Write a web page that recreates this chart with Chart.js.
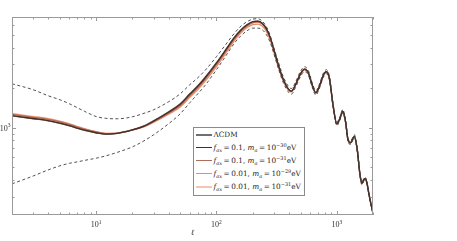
<!DOCTYPE html>
<html><head><meta charset="utf-8">
<script src="https://cdn.jsdelivr.net/npm/chart.js@4"></script>
<style>
html,body{margin:0;padding:0;background:#fff;}
#wrap{position:relative;width:457px;height:241px;overflow:hidden;}
#c{position:absolute;left:0;top:0;}
#legend{position:absolute;left:193px;top:127px;width:112px;height:69px;border:1px solid #8a8a8a;background:#fff;box-sizing:border-box;font-family:"DejaVu Serif","Liberation Serif",serif;font-size:7.3px;color:#222;}
.row{position:absolute;left:2px;height:10px;display:flex;align-items:center;white-space:nowrap;line-height:10px;}
.sw{display:inline-block;width:16px;height:1.4px;margin-right:1.5px;}
.eq{margin:0 1.6px;}
sub{font-size:5px;vertical-align:-1.5px;line-height:0;}
sup{font-size:5px;vertical-align:3px;line-height:0;}
</style></head>
<body>
<div id="wrap">
<canvas id="c" width="457" height="241"></canvas>
<div id="legend"></div>
</div>
<script>
const ell = [2,3,4,5,6,7,8,10,12,15,20,25,30,40,50,60,70,80,100,120,140,160,180,200,220,240,260,280,300,330,360,400,420,450,500,540,580,620,670,720,770,820,870,930,1000,1060,1120,1180,1240,1300,1400,1480,1560,1620,1700,1760,1850,1930,2000];

const lcdm = [1226,1164,1124,1076,1030,986,952,912,891,904,
961,1030,1124,1315,1512,1799,2069,2379,3092,3909,
4781,5496,5998,6322,6376,6153,5594,4781,3879,2884,
2296,1930,1880,2069,2552,2761,2597,2143,1832,2069,
2466,2644,2339,1486,1067,1164,1327,1124,807,766,
858,678,438,378,410,398,315,260,226];

const cvUpper = [2143,1930,1738,1622,1512,1410,1327,1211,1174,1164,
1205,1281,1361,1565,1799,2104,2379,2688,3432,4266,
5126,5845,6322,6601,6650,6376,5794,4950,4016,3043,
2418,2026,1972,2166,2667,2880,2704,2229,1903,2146,
2555,2736,2419,1535,1101,1200,1367,1157,830,787,
881,696,449,387,420,408,322,266,231];

const cvLower = [375,430,478,513,536,550,564,586,610,649,
714,793,880,1067,1270,1539,1799,2069,2735,3492,
4305,4950,5403,5643,5643,5496,5036,4383,3614,2725,
2174,1834,1788,1972,2437,2642,2490,2057,1761,1992,
2377,2551,2259,1437,1033,1128,1287,1091,784,745,
835,660,427,369,400,388,308,254,221];

const fax01_m30 = [1232,1170,1129,1080,1034,989,954,913,891,903,
958,1025,1117,1305,1499,1783,2050,2357,3064,3878,
4750,5470,5978,6306,6365,6148,5594,4786,3886,2890,
2300,1932,1881,2070,2552,2760,2596,2143,1832,2069,
2466,2644,2339,1486,1067,1164,1327,1124,807,766,
858,678,438,378,410,398,315,260,226];

const fax01_m31 = [1259,1195,1153,1103,1055,1008,971,926,900,907,
958,1020,1105,1281,1465,1738,1995,2294,2985,3784,
4646,5362,5868,6196,6260,6055,5522,4737,3855,2878,
2296,1932,1882,2068,2548,2756,2594,2143,1833,2067,
2462,2640,2338,1487,1068,1164,1326,1124,808,767,
857,678,438,378,409,397,315,260,226];

const fax001_m29 = [1270,1205,1162,1111,1062,1013,975,928,901,906,
955,1010,1093,1260,1430,1690,1935,2220,2890,3660,
4500,5210,5700,6010,6060,5860,5330,4570,3720,2790,
2250,1905,1862,2050,2520,2725,2572,2130,1824,2056,
2446,2624,2327,1482,1066,1162,1322,1122,808,767,
856,677,438,378,408,396,314,260,226];

const fax001_m31 = [1281,1215,1172,1120,1070,1020,981,930,902,907,
958,1024,1114,1300,1494,1776,2042,2348,3055,3865,
4730,5440,5940,6260,6315,6100,5555,4760,3870,2884,
2298,1932,1882,2069,2550,2758,2596,2143,1832,2068,
2464,2642,2338,1486,1067,1164,1326,1124,807,766,
858,678,438,378,410,398,315,260,226];

const xTickLabels = [{v:10,e:'1'},{v:100,e:'2'},{v:1000,e:'3'}];
const yTickLabels = [{v:1000,e:'3'}];
const xMinorTicks = [2,3,4,5,6,7,8,9,20,30,40,50,60,70,80,90,200,300,400,500,600,700,800,900,2000];
const yMinorTicks = [300,400,500,600,700,800,900,2000,3000,4000,5000,6000];
const xAxisTitle = 'ℓ';

const eq = '<span class="eq">=</span>';
const seriesInfo = [
  {name:'ΛCDM', html:'ΛCDM', data:lcdm, color:'#707070'},
  {name:'f_ax = 0.1, m_a = 10^-30 eV', html:'<i>f</i><sub><i>ax</i></sub>'+eq+'0.1, <i>m</i><sub><i>a</i></sub>'+eq+'10<sup>−30</sup>eV', data:fax01_m30, color:'#4a2c22'},
  {name:'f_ax = 0.1, m_a = 10^-31 eV', html:'<i>f</i><sub><i>ax</i></sub>'+eq+'0.1, <i>m</i><sub><i>a</i></sub>'+eq+'10<sup>−31</sup>eV', data:fax01_m31, color:'#b06e58'},
  {name:'f_ax = 0.01, m_a = 10^-29 eV', html:'<i>f</i><sub><i>ax</i></sub>'+eq+'0.01, <i>m</i><sub><i>a</i></sub>'+eq+'10<sup>−29</sup>eV', data:fax001_m29, color:'#f08a66'},
  {name:'f_ax = 0.01, m_a = 10^-31 eV', html:'<i>f</i><sub><i>ax</i></sub>'+eq+'0.01, <i>m</i><sub><i>a</i></sub>'+eq+'10<sup>−31</sup>eV', data:fax001_m31, color:'#f9c2b2'}
];

const toXY = arr => ell.map((l,i)=>({x:l,y:arr[i]}));

const datasets = [];
datasets.push({label:'cv upper', data:toXY(cvUpper), borderColor:'#3c3c3c', borderWidth:0.9, borderDash:[3,2.5], order:0});
datasets.push({label:'cv lower', data:toXY(cvLower), borderColor:'#3c3c3c', borderWidth:0.9, borderDash:[3,2.5], order:0});
const ord = [2,1,3,4,5];
seriesInfo.forEach((s,i)=>{
  datasets.push({label:s.name, data:toXY(s.data), borderColor:s.color, borderWidth:1.3, order:ord[i]});
});

const framePlugin = {
  id:'frameTicks',
  afterDatasetsDraw(chart){
    const {ctx, chartArea:a, scales:{x,y}} = chart;
    ctx.save();
    ctx.strokeStyle = '#9a9a9a';
    ctx.lineWidth = 1;
    ctx.strokeRect(a.left+0.5, a.top+0.5, a.right-a.left-1, a.bottom-a.top-1);
    const tick = (x1,y1,x2,y2)=>{ctx.beginPath();ctx.moveTo(x1,y1);ctx.lineTo(x2,y2);ctx.stroke();};
    xMinorTicks.forEach(v=>{const px=Math.round(x.getPixelForValue(v))+0.5; tick(px,a.bottom,px,a.bottom-2.5); tick(px,a.top,px,a.top+2.5);});
    xTickLabels.forEach(t=>{const px=Math.round(x.getPixelForValue(t.v))+0.5; tick(px,a.bottom,px,a.bottom-4); tick(px,a.top,px,a.top+4);});
    yMinorTicks.forEach(v=>{const py=Math.round(y.getPixelForValue(v))+0.5; tick(a.left,py,a.left+2.5,py); tick(a.right,py,a.right-2.5,py);});
    yTickLabels.forEach(t=>{const py=Math.round(y.getPixelForValue(t.v))+0.5; tick(a.left,py,a.left+4,py); tick(a.right,py,a.right-4,py);});
    ctx.fillStyle = '#333';
    ctx.textBaseline = 'alphabetic';
    const base = '8px "Liberation Serif", "DejaVu Serif", serif';
    const small = '5.5px "Liberation Serif", "DejaVu Serif", serif';
    xTickLabels.forEach(t=>{
      const px = x.getPixelForValue(t.v);
      ctx.font = base; const w1 = ctx.measureText('10').width;
      ctx.font = small; const w2 = ctx.measureText(t.e).width;
      const start = px - (w1+w2)/2;
      ctx.font = base; ctx.textAlign='left'; ctx.fillText('10', start, a.bottom+12);
      ctx.font = small; ctx.fillText(t.e, start+w1, a.bottom+8.5);
    });
    yTickLabels.forEach(t=>{
      const py = y.getPixelForValue(t.v);
      ctx.font = small; const w2 = ctx.measureText(t.e).width;
      ctx.font = base; const w1 = ctx.measureText('10').width;
      const end = a.left - 1.5;
      ctx.textAlign='left';
      ctx.fillText('10', end - w1 - w2, py+3);
      ctx.font = small; ctx.fillText(t.e, end - w2, py-0.5);
    });
    ctx.font = 'italic 8px "Liberation Serif", "DejaVu Serif", serif';
    ctx.textAlign = 'center';
    ctx.fillText(xAxisTitle, (a.left+a.right)/2, a.bottom+20);
    ctx.restore();
  }
};

new Chart(document.getElementById('c'), {
  type:'line',
  data:{datasets},
  options:{
    responsive:false,
    animation:false,
    layout:{padding:{left:12,right:84,top:17,bottom:26}},
    elements:{point:{radius:0}, line:{cubicInterpolationMode:'monotone', fill:false}},
    plugins:{legend:{display:false}, tooltip:{enabled:false}},
    scales:{
      x:{type:'logarithmic', min:2, max:2000, display:false},
      y:{type:'logarithmic', min:218, max:6850, display:false}
    }
  },
  plugins:[framePlugin]
});

const lg = document.getElementById('legend');
const rowTops = [2,14.5,27.5,40.5,54];
seriesInfo.forEach((s,i)=>{
  const r = document.createElement('div');
  r.className='row';
  r.style.top = rowTops[i]+'px';
  r.innerHTML = '<span class="sw" style="background:'+s.color+'"></span><span>'+s.html+'</span>';
  lg.appendChild(r);
});
</script>
</body></html>
